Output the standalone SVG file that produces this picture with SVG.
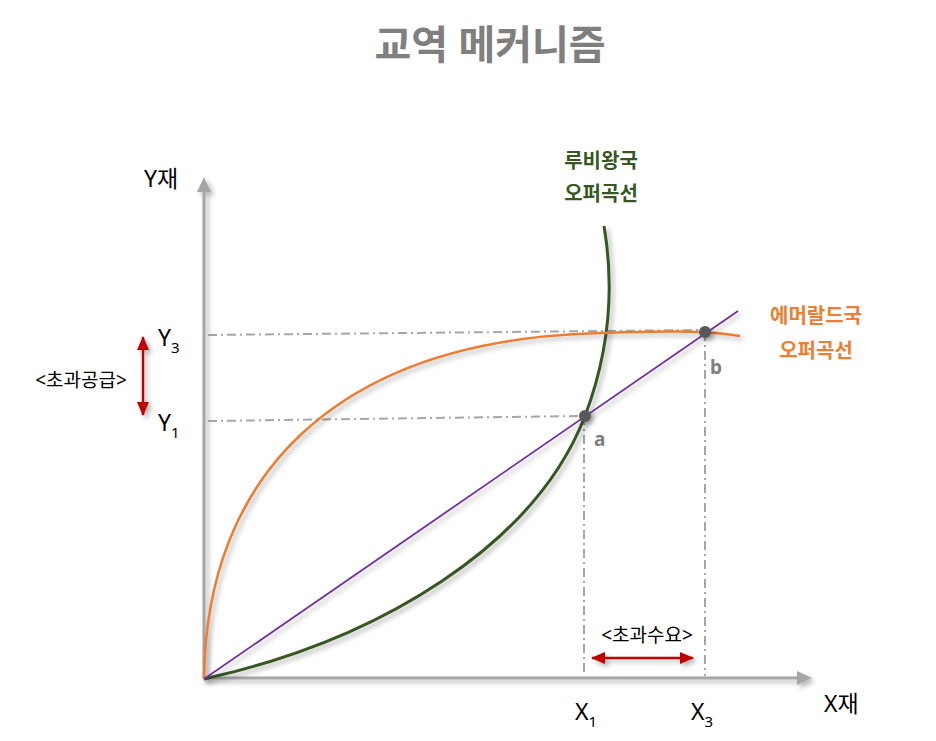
<svg xmlns="http://www.w3.org/2000/svg" width="936" height="741" viewBox="0 0 936 741">
<style>
text{font-family:"Noto Sans","Noto Sans CJK KR",sans-serif}
.dash{stroke:#a6a6a6;stroke-width:2;fill:none;stroke-dasharray:9 4 2 4}
.lbl{font-size:23px;fill:#000}
.sub{font-size:15px}
.kor{font-size:19px;fill:#000}
.pt{fill:#595959}
.ab{font-size:19px;font-weight:bold;fill:#7f7f7f}
</style>
<defs>
<filter id="sh" filterUnits="userSpaceOnUse" x="0" y="0" width="936" height="741">
<feDropShadow dx="3" dy="3" stdDeviation="2.5" flood-color="#000" flood-opacity="0.3"/>
</filter>
<marker id="ra" markerWidth="14" markerHeight="12" refX="13" refY="6" orient="auto-start-reverse" markerUnits="userSpaceOnUse" viewBox="0 0 14 12">
<path d="M0,0 L14,6 L0,12 z" fill="#c00000"/>
</marker>
</defs>
<text x="490" y="59" text-anchor="middle" style="font-size:40px;font-weight:bold;fill:#7f7f7f">교역 메커니즘</text>
<g id="axes" filter="url(#sh)">
<line x1="204" y1="679" x2="204" y2="192" stroke="#a6a6a6" stroke-width="3"/>
<path d="M197,192 L204,177 L211,192 z" fill="#a6a6a6"/>
<line x1="204" y1="678" x2="797" y2="678" stroke="#a6a6a6" stroke-width="3"/>
<path d="M797,671 L812,678 L797,685 z" fill="#a6a6a6"/>
</g>
<g id="connectors">
<path class="dash" d="M208,335 L705,330"/>
<path class="dash" d="M208,421 L585,416"/>
<path class="dash" d="M584,416 L584,676"/>
<path class="dash" d="M705,332 L705,676"/>
<path id="ruby" d="M204,679 C380,640 535,545 585,416 C608,355 615,290 604,226" fill="none" stroke="#375623" stroke-width="3" filter="url(#sh)"/>
<path id="emerald" d="M204,679 C206,480 330,340 600,333 C660,331 705,330 740,336" fill="none" stroke="#ed7d31" stroke-width="2.5" filter="url(#sh)"/>
<line x1="204" y1="679" x2="738" y2="311" stroke="#7030a0" stroke-width="1.8" filter="url(#sh)"/>
<line x1="143" y1="337" x2="143" y2="415" stroke="#c00000" stroke-width="2.5" marker-start="url(#ra)" marker-end="url(#ra)" filter="url(#sh)"/>
<line x1="592" y1="658" x2="693" y2="658" stroke="#c00000" stroke-width="2.5" marker-start="url(#ra)" marker-end="url(#ra)" filter="url(#sh)"/>
</g>
<g id="point-a">
<circle class="pt" cx="585" cy="416" r="6" filter="url(#sh)"/>
<text class="ab" x="594" y="446">a</text>
</g>
<g id="point-b">
<circle class="pt" cx="705" cy="332" r="6" filter="url(#sh)"/>
<text class="ab" x="710" y="374">b</text>
</g>
<g id="labels">
<text class="lbl" x="144" y="187">Y재</text>
<text class="lbl" x="824" y="712">X재</text>
<text class="lbl" x="158" y="346">Y<tspan class="sub" dy="7">3</tspan></text>
<text class="lbl" x="158" y="431">Y<tspan class="sub" dy="7">1</tspan></text>
<text class="lbl" x="575" y="720">X<tspan class="sub" dy="7">1</tspan></text>
<text class="lbl" x="691" y="720">X<tspan class="sub" dy="7">3</tspan></text>
<text class="kor" x="81" y="387" text-anchor="middle">&lt;초과공급&gt;</text>
<text class="kor" x="647" y="642" text-anchor="middle">&lt;초과수요&gt;</text>
</g>
<g id="ruby-label" style="font-size:20px;font-weight:bold;fill:#375623">
<text x="601" y="168" text-anchor="middle">루비왕국</text>
<text x="601" y="201" text-anchor="middle">오퍼곡선</text>
</g>
<g id="emerald-label" style="font-size:20px;font-weight:bold;fill:#ed7d31">
<text x="816" y="323" text-anchor="middle">에머랄드국</text>
<text x="816" y="358" text-anchor="middle">오퍼곡선</text>
</g>
</svg>
